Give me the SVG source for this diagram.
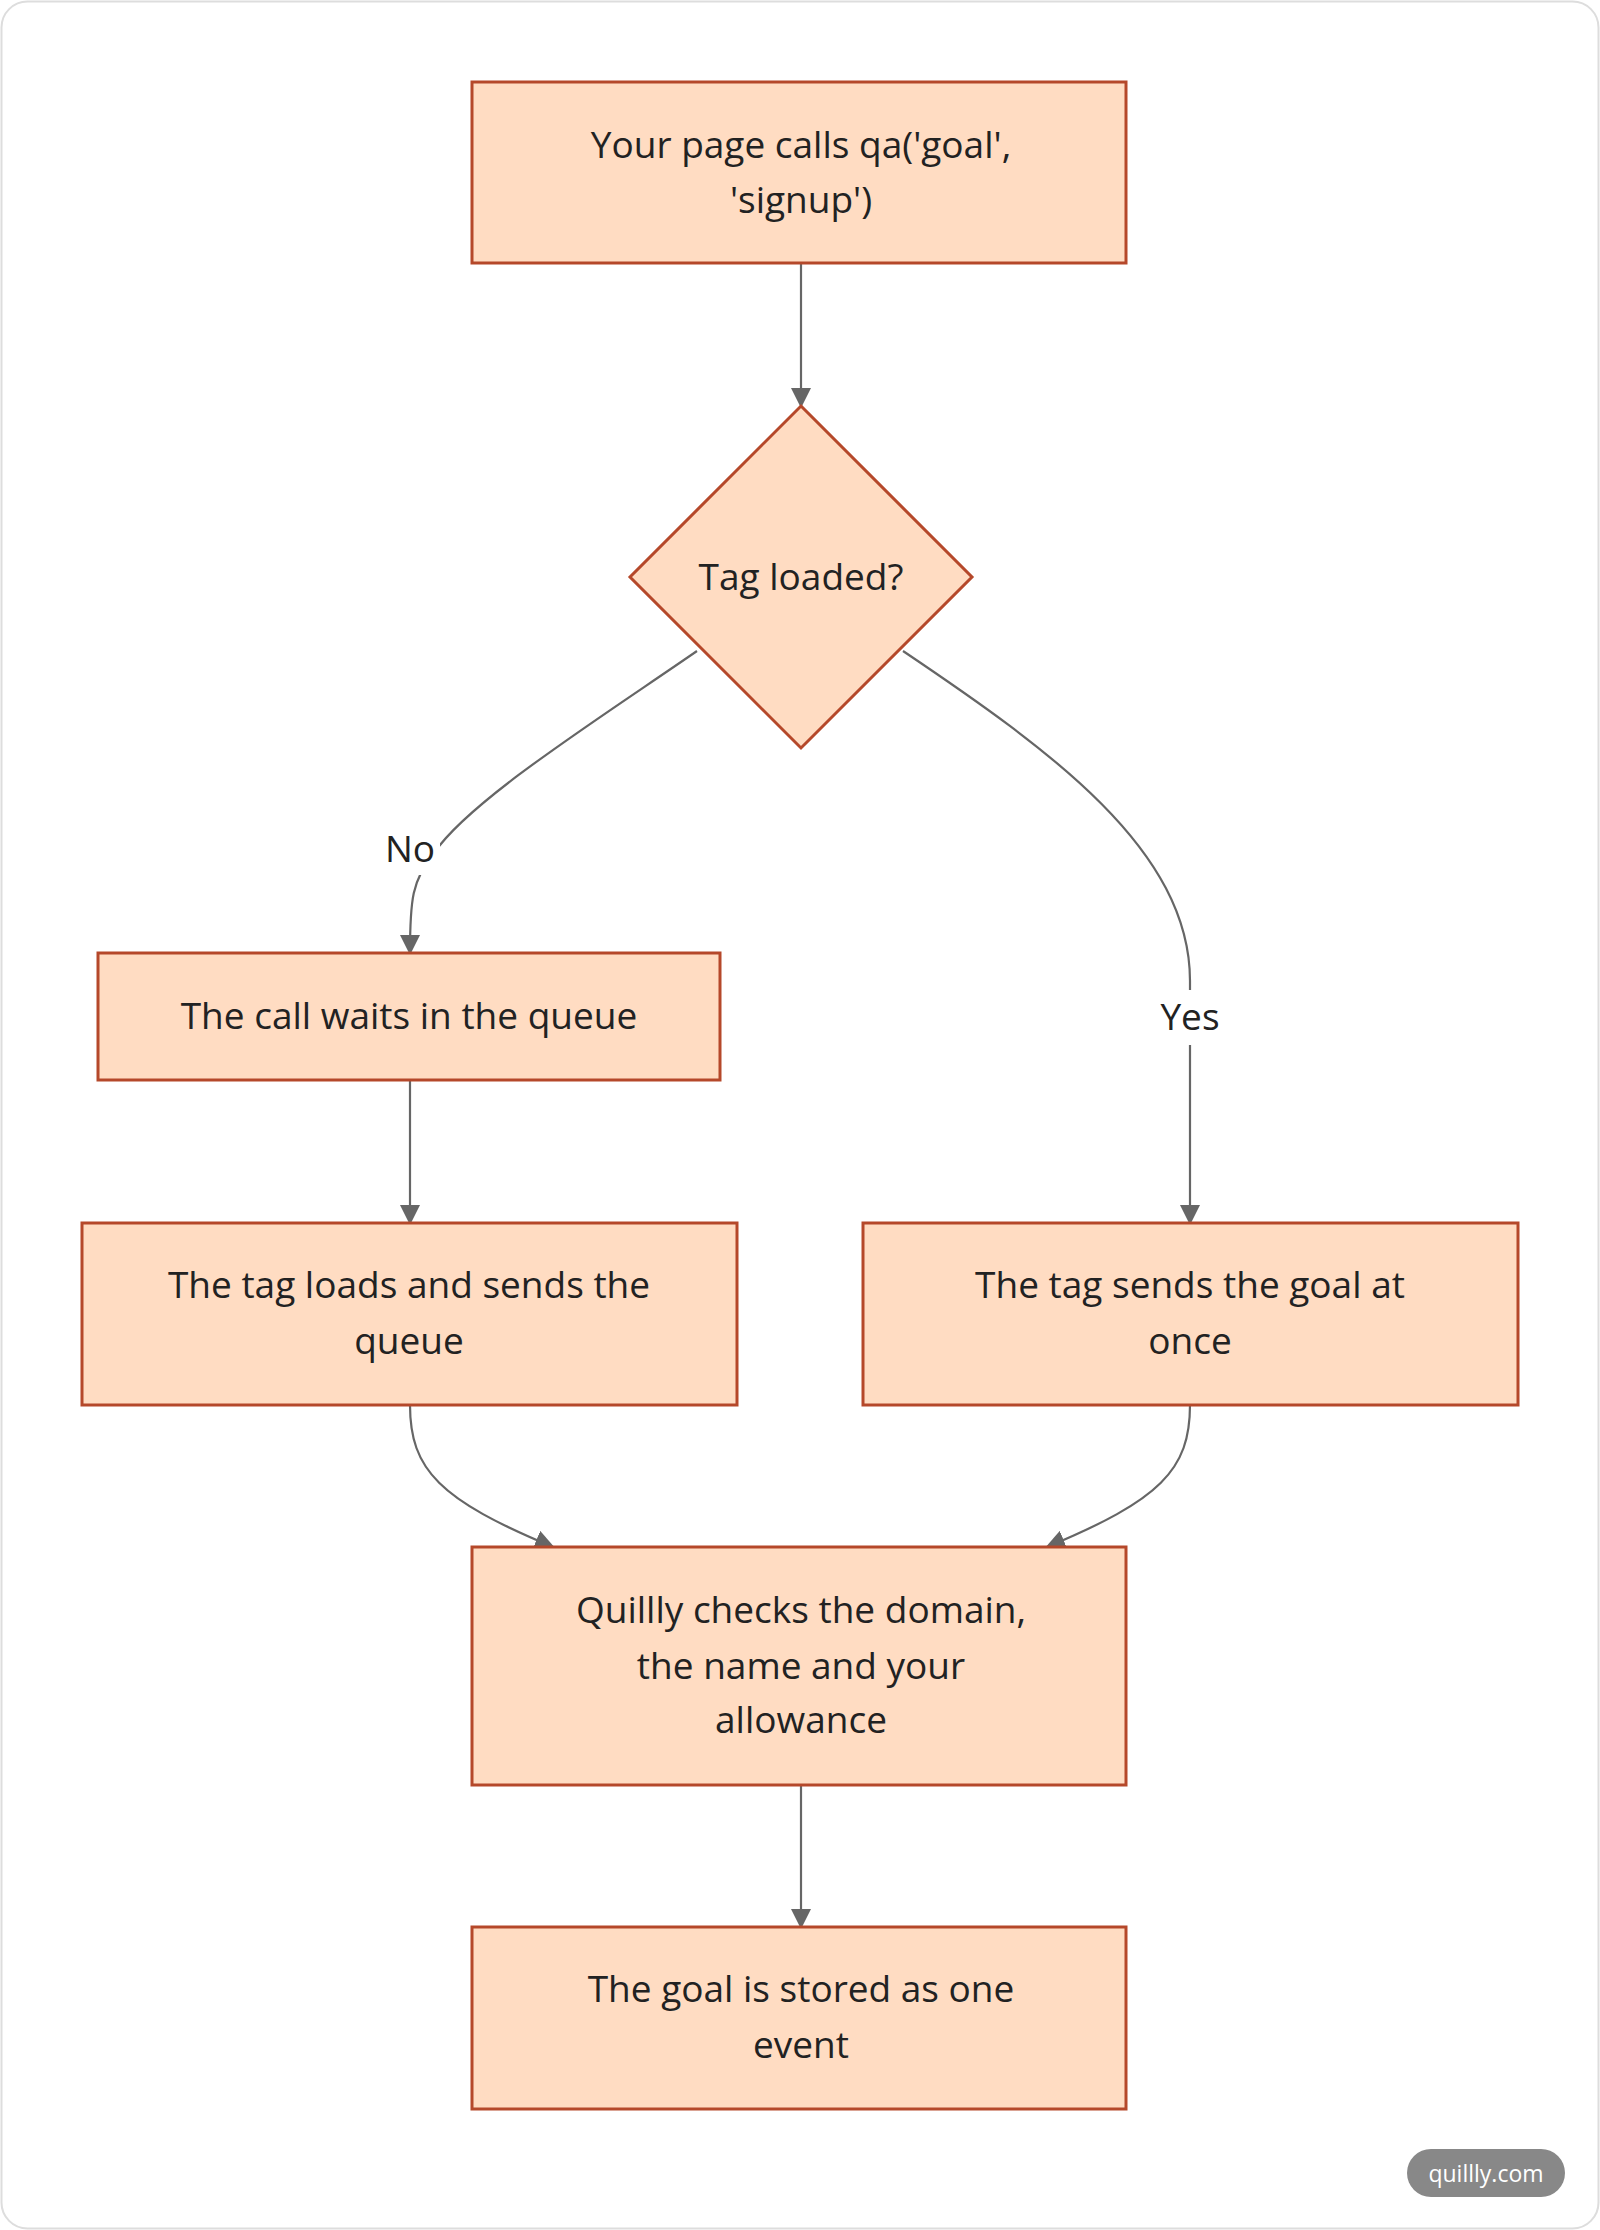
<svg xmlns="http://www.w3.org/2000/svg" width="1600" height="2230" viewBox="0 0 1600 2230">
<style>
.n{fill:#ffdcc2;stroke:#b5482a;stroke-width:3}
.t{font-family:"Open Sans","Noto Sans",sans-serif;font-size:37px;fill:#222;text-anchor:middle}
.e{fill:none;stroke:#666;stroke-width:2.2}
.l{font-family:"Open Sans","Noto Sans",sans-serif;font-size:37px;fill:#222;text-anchor:middle}
</style>
<defs><marker id="a" viewBox="0 0 10 10" refX="9" refY="5" markerWidth="9" markerHeight="9" markerUnits="userSpaceOnUse" orient="auto"><path d="M0,0L10,5L0,10z" fill="#666"/></marker>
<marker id="b" viewBox="0 0 10 10" refX="9" refY="5" markerWidth="20" markerHeight="20" markerUnits="userSpaceOnUse" orient="auto"><path d="M0,0L10,5L0,10z" fill="#666"/></marker></defs>
<rect x="1.5" y="1.5" width="1597" height="2227" rx="26" fill="#fff" stroke="#ddd" stroke-width="2"/>
<g id="edges">
<path class="e" marker-end="url(#b)" d="M801,263V406"/>
<path class="e" marker-end="url(#b)" d="M697,651C600,718 470,800 434,853C412,880 410,900 410,953"/>
<path class="e" marker-end="url(#b)" d="M903,651C1050,750 1190,850 1190,981V1223"/>
<path class="e" marker-end="url(#b)" d="M410,1080V1223"/>
<path class="e" marker-end="url(#b)" d="M410,1405C410,1470 440,1500 553,1547"/>
<path class="e" marker-end="url(#b)" d="M1190,1405C1190,1470 1160,1500 1047,1547"/>
<path class="e" marker-end="url(#b)" d="M801,1785V1927"/>
<rect x="380" y="825" width="60" height="50" fill="#fff"/>
<text class="l" x="410" y="862">No</text>
<rect x="1155" y="990" width="70" height="55" fill="#fff"/>
<text class="l" x="1190" y="1030">Yes</text>
</g>
<g id="n1"><rect class="n" x="472" y="82" width="654" height="181"/><text class="t" x="801" y="158">Your page calls qa('goal',</text><text class="t" x="801" y="213">'signup')</text></g>
<g id="n2"><polygon class="n" points="801,406 972,577 801,748 630,577"/><text class="t" x="801" y="590">Tag loaded?</text></g>
<g id="n3"><rect class="n" x="98" y="953" width="622" height="127"/><text class="t" x="409" y="1029">The call waits in the queue</text></g>
<g id="n4"><rect class="n" x="82" y="1223" width="655" height="182"/><text class="t" x="409" y="1298">The tag loads and sends the</text><text class="t" x="409" y="1354">queue</text></g>
<g id="n5"><rect class="n" x="863" y="1223" width="655" height="182"/><text class="t" x="1190" y="1298">The tag sends the goal at</text><text class="t" x="1190" y="1354">once</text></g>
<g id="n6"><rect class="n" x="472" y="1547" width="654" height="238"/><text class="t" x="801" y="1623">Quillly checks the domain,</text><text class="t" x="801" y="1679">the name and your</text><text class="t" x="801" y="1733">allowance</text></g>
<g id="n7"><rect class="n" x="472" y="1927" width="654" height="182"/><text class="t" x="801" y="2002">The goal is stored as one</text><text class="t" x="801" y="2058">event</text></g>
<g id="badge"><rect x="1407" y="2149" width="158" height="48" rx="24" fill="#888"/><text x="1486" y="2182" font-family="Open Sans,sans-serif" font-size="23" fill="#fff" text-anchor="middle">quillly.com</text></g>
</svg>
